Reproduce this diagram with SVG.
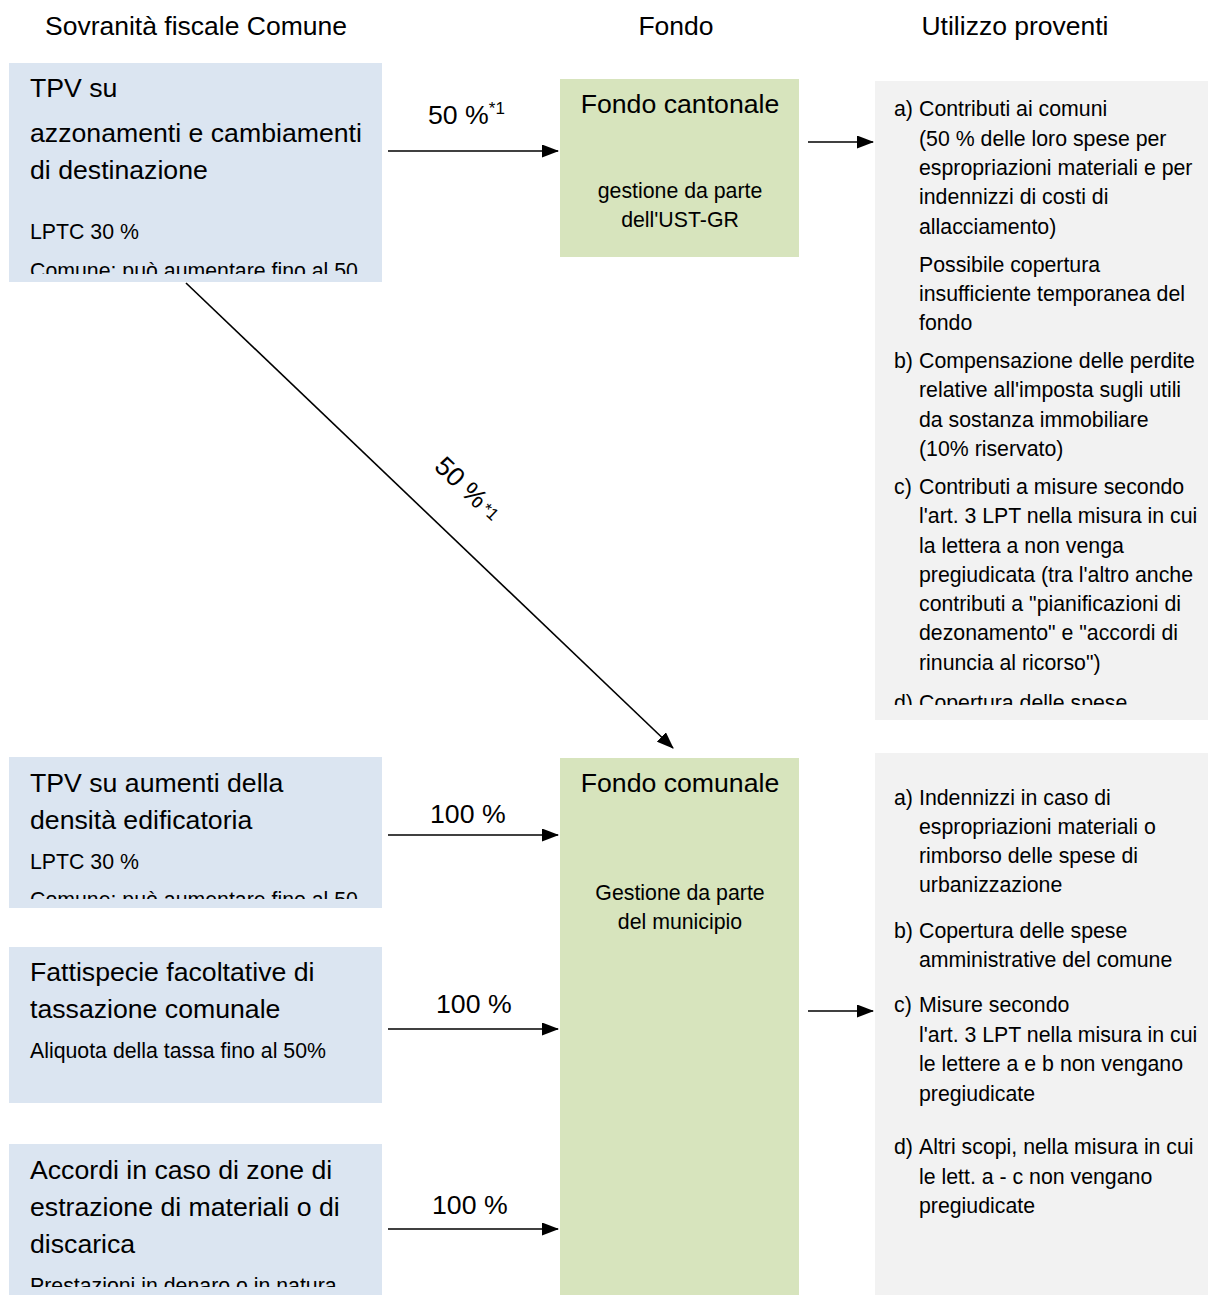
<svg xmlns="http://www.w3.org/2000/svg" width="1208" height="1295" viewBox="0 0 1208 1295">
<style>
text{font-family:"Liberation Sans",Arial,sans-serif;fill:#000}
.hdr{font-size:26.5px;text-anchor:middle}
.big{font-size:26.67px}
.sm{font-size:21.3px}
.mid{text-anchor:middle}
.src{fill:#dbe5f1}
.fund{fill:#d7e4bd}
.use{fill:#f2f2f2}
.conn{stroke:#000;stroke-width:1.6;fill:none;marker-end:url(#ah)}
</style>
<defs>
<marker id="ah" markerUnits="userSpaceOnUse" markerWidth="17" markerHeight="13" refX="16" refY="6.5" orient="auto">
<path d="M0,0 L17,6.5 L0,13 z" fill="#000"/>
</marker>
<clipPath id="c1"><rect x="9" y="63" width="373" height="211"/></clipPath>
<clipPath id="c2"><rect x="9" y="757" width="373" height="142"/></clipPath>
<clipPath id="c4"><rect x="9" y="1144" width="373" height="143"/></clipPath>
<clipPath id="c5"><rect x="875" y="81" width="333" height="624"/></clipPath>
</defs>
<rect width="1208" height="1295" fill="#fff"/>

<g id="headers">
<text class="hdr" x="196" y="35">Sovranità fiscale Comune</text>
<text class="hdr" x="676" y="35">Fondo</text>
<text class="hdr" x="1015" y="35">Utilizzo proventi</text>
</g>

<g id="src1">
<rect class="src" x="9" y="63" width="373" height="219"/>
<g clip-path="url(#c1)">
<text class="big" x="30" y="97">TPV su</text>
<text class="big" x="30" y="142">azzonamenti e cambiamenti</text>
<text class="big" x="30" y="179">di destinazione</text>
<text class="sm" x="30" y="239">LPTC 30 %</text>
<text class="sm" x="30" y="278">Comune: può aumentare fino al 50</text>
</g>
</g>

<g id="src2">
<rect class="src" x="9" y="757" width="373" height="151"/>
<g clip-path="url(#c2)">
<text class="big" x="30" y="792">TPV su aumenti della</text>
<text class="big" x="30" y="829">densità edificatoria</text>
<text class="sm" x="30" y="869">LPTC 30 %</text>
<text class="sm" x="30" y="907">Comune: può aumentare fino al 50</text>
</g>
</g>

<g id="src3">
<rect class="src" x="9" y="947" width="373" height="156"/>
<text class="big" x="30" y="981">Fattispecie facoltative di</text>
<text class="big" x="30" y="1018">tassazione comunale</text>
<text class="sm" x="30" y="1058">Aliquota della tassa fino al 50%</text>
</g>

<g id="src4">
<rect class="src" x="9" y="1144" width="373" height="151"/>
<g clip-path="url(#c4)">
<text class="big" x="30" y="1179">Accordi in caso di zone di</text>
<text class="big" x="30" y="1216">estrazione di materiali o di</text>
<text class="big" x="30" y="1253">discarica</text>
<text class="sm" x="30" y="1293">Prestazioni in denaro o in natura</text>
</g>
</g>

<g id="fondo-cantonale">
<rect class="fund" x="560" y="79" width="239" height="178"/>
<text class="big mid" x="680" y="113">Fondo cantonale</text>
<text class="sm mid" x="680" y="198">gestione da parte</text>
<text class="sm mid" x="680" y="227">dell'UST-GR</text>
</g>

<g id="fondo-comunale">
<rect class="fund" x="560" y="758" width="239" height="537"/>
<text class="big mid" x="680" y="792">Fondo comunale</text>
<text class="sm mid" x="680" y="900">Gestione da parte</text>
<text class="sm mid" x="680" y="929">del municipio</text>
</g>

<g id="uso-cantonale">
<rect class="use" x="875" y="81" width="333" height="639"/>
<g clip-path="url(#c5)">
<text class="sm" x="894" y="116">a)</text>
<text class="sm" x="919" y="116">Contributi ai comuni</text>
<text class="sm" x="919" y="146">(50 % delle loro spese per</text>
<text class="sm" x="919" y="175">espropriazioni materiali e per</text>
<text class="sm" x="919" y="204">indennizzi di costi di</text>
<text class="sm" x="919" y="234">allacciamento)</text>
<text class="sm" x="919" y="272">Possibile copertura</text>
<text class="sm" x="919" y="301">insufficiente temporanea del</text>
<text class="sm" x="919" y="330">fondo</text>
<text class="sm" x="894" y="368">b)</text>
<text class="sm" x="919" y="368">Compensazione delle perdite</text>
<text class="sm" x="919" y="397">relative all'imposta sugli utili</text>
<text class="sm" x="919" y="427">da sostanza immobiliare</text>
<text class="sm" x="919" y="456">(10% riservato)</text>
<text class="sm" x="894" y="494">c)</text>
<text class="sm" x="919" y="494">Contributi a misure secondo</text>
<text class="sm" x="919" y="523">l'art. 3 LPT nella misura in cui</text>
<text class="sm" x="919" y="553">la lettera a non venga</text>
<text class="sm" x="919" y="582">pregiudicata (tra l'altro anche</text>
<text class="sm" x="919" y="611">contributi a "pianificazioni di</text>
<text class="sm" x="919" y="640">dezonamento" e "accordi di</text>
<text class="sm" x="919" y="670">rinuncia al ricorso")</text>
<text class="sm" x="894" y="710">d)</text>
<text class="sm" x="919" y="710">Copertura delle spese</text>
</g>
</g>

<g id="uso-comunale">
<rect class="use" x="875" y="753" width="333" height="542"/>
<text class="sm" x="894" y="805">a)</text>
<text class="sm" x="919" y="805">Indennizzi in caso di</text>
<text class="sm" x="919" y="834">espropriazioni materiali o</text>
<text class="sm" x="919" y="863">rimborso delle spese di</text>
<text class="sm" x="919" y="892">urbanizzazione</text>
<text class="sm" x="894" y="938">b)</text>
<text class="sm" x="919" y="938">Copertura delle spese</text>
<text class="sm" x="919" y="967">amministrative del comune</text>
<text class="sm" x="894" y="1012">c)</text>
<text class="sm" x="919" y="1012">Misure secondo</text>
<text class="sm" x="919" y="1042">l'art. 3 LPT nella misura in cui</text>
<text class="sm" x="919" y="1071">le lettere a e b non vengano</text>
<text class="sm" x="919" y="1101">pregiudicate</text>
<text class="sm" x="894" y="1154">d)</text>
<text class="sm" x="919" y="1154">Altri scopi, nella misura in cui</text>
<text class="sm" x="919" y="1184">le lett. a - c non vengano</text>
<text class="sm" x="919" y="1213">pregiudicate</text>
</g>

<g id="connectors">
<line class="conn" x1="388" y1="151" x2="558" y2="151"/>
<line class="conn" x1="808" y1="142" x2="873" y2="142"/>
<line class="conn" x1="186" y1="283" x2="673" y2="748"/>
<line class="conn" x1="388" y1="835" x2="558" y2="835"/>
<line class="conn" x1="388" y1="1029" x2="558" y2="1029"/>
<line class="conn" x1="388" y1="1229" x2="558" y2="1229"/>
<line class="conn" x1="808" y1="1011" x2="873" y2="1011"/>
<text class="big" x="428" y="124">50 %<tspan font-size="17" dy="-10">*1</tspan></text>
<text class="big" x="433" y="468" transform="rotate(43.6 433 468)">50 %<tspan font-size="17" dx="3" dy="-2">*1</tspan></text>
<text class="big" x="430" y="823">100 %</text>
<text class="big" x="436" y="1013">100 %</text>
<text class="big" x="432" y="1214">100 %</text>
</g>
</svg>
